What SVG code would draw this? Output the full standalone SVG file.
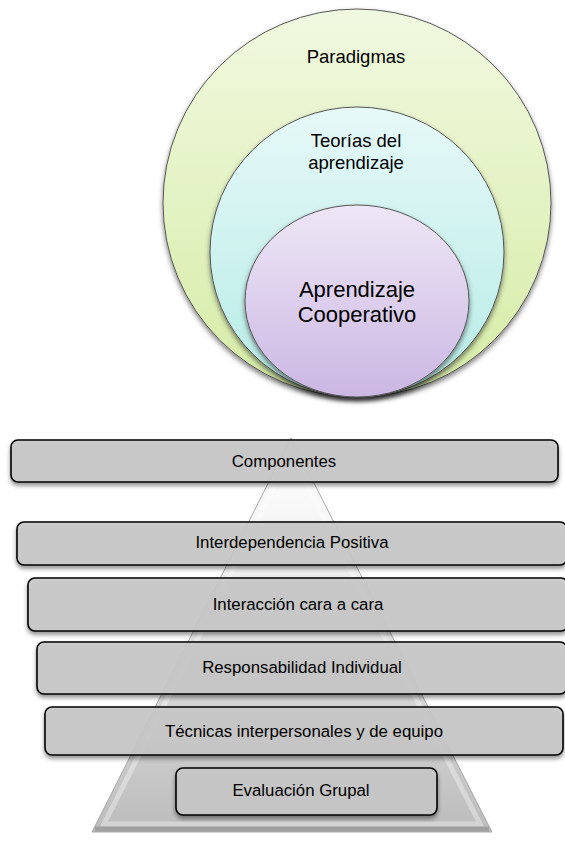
<svg xmlns="http://www.w3.org/2000/svg" width="565" height="844" viewBox="0 0 565 844">
<defs>
<linearGradient id="gY" x1="0" y1="0" x2="0" y2="1"><stop offset="0" stop-color="#f0f9e0"/><stop offset="1" stop-color="#d6eca6"/></linearGradient>
<linearGradient id="gC" x1="0" y1="0" x2="0" y2="1"><stop offset="0" stop-color="#e6f9f8"/><stop offset="1" stop-color="#b6ebe6"/></linearGradient>
<linearGradient id="gP" x1="0" y1="0" x2="0" y2="1"><stop offset="0" stop-color="#eee7f6"/><stop offset="1" stop-color="#cbb7e3"/></linearGradient>
<linearGradient id="gT" x1="0" y1="0" x2="0" y2="1"><stop offset="0" stop-color="#ffffff"/><stop offset="0.3" stop-color="#f2f2f2"/><stop offset="1" stop-color="#bcbcbc"/></linearGradient>
<filter id="sh" x="-10%" y="-10%" width="120%" height="130%"><feDropShadow dx="0" dy="3" stdDeviation="2" flood-color="#000" flood-opacity="0.45"/></filter>
<filter id="shc" x="-10%" y="-10%" width="120%" height="120%"><feDropShadow dx="0" dy="3" stdDeviation="2.5" flood-color="#000" flood-opacity="0.5"/></filter>
</defs>
<style>
.c{stroke:#555;stroke-width:1}
.b{fill:#c9c9c9;fill-opacity:0.9;stroke:#000;stroke-width:1.6}
.t{font-family:"Liberation Sans",Arial,sans-serif;fill:#000;text-anchor:middle}
</style>
<g id="venn">
<g id="paradigmas"><ellipse class="c" cx="357" cy="203" rx="194" ry="194" fill="url(#gY)" filter="url(#shc)"/><text class="t" x="356" y="63" font-size="18.5">Paradigmas</text></g>
<g id="teorias"><ellipse class="c" cx="357" cy="252" rx="147" ry="145" fill="url(#gC)" filter="url(#shc)"/><text class="t" x="356" y="147" font-size="18.5">Teorías del</text><text class="t" x="356" y="169" font-size="18.5">aprendizaje</text></g>
<g id="aprendizaje"><ellipse class="c" cx="357" cy="301" rx="112" ry="96" fill="url(#gP)" filter="url(#shc)"/><text class="t" x="357" y="297" font-size="22">Aprendizaje</text><text class="t" x="357" y="322" font-size="22">Cooperativo</text></g>
</g>
<g id="pyramid">
<polygon points="291,438 492,832 92,832" fill="url(#gT)" stroke="#a8a8a8" stroke-width="1"/>
<polygon points="291,454 480,824 104,824" fill="none" stroke="#ffffff" stroke-width="5" stroke-opacity="0.35"/>
<line x1="95" y1="829" x2="489" y2="829" stroke="#a0a0a0" stroke-width="5"/>
</g>
<g id="componentes"><rect class="b" x="11" y="440" width="547" height="42" rx="7" filter="url(#sh)"/><text class="t" x="284" y="467" font-size="16.8">Componentes</text></g>
<g id="interdependencia"><rect class="b" x="17" y="522" width="550" height="43" rx="7" filter="url(#sh)"/><text class="t" x="292" y="548" font-size="16.8">Interdependencia Positiva</text></g>
<g id="interaccion"><rect class="b" x="28" y="578" width="540" height="53" rx="7" filter="url(#sh)"/><text class="t" x="298" y="610" font-size="16.8">Interacción cara a cara</text></g>
<g id="responsabilidad"><rect class="b" x="37" y="642" width="530" height="52" rx="7" filter="url(#sh)"/><text class="t" x="302" y="673" font-size="16.8">Responsabilidad Individual</text></g>
<g id="tecnicas"><rect class="b" x="45" y="707" width="518" height="48" rx="7" filter="url(#sh)"/><text class="t" x="304" y="737" font-size="16.8">Técnicas interpersonales y de equipo</text></g>
<g id="evaluacion"><rect class="b" x="176" y="768" width="261" height="47" rx="7" filter="url(#sh)"/><text class="t" x="301" y="796" font-size="16.8">Evaluación Grupal</text></g>
<g id="connectors"/>
</svg>
